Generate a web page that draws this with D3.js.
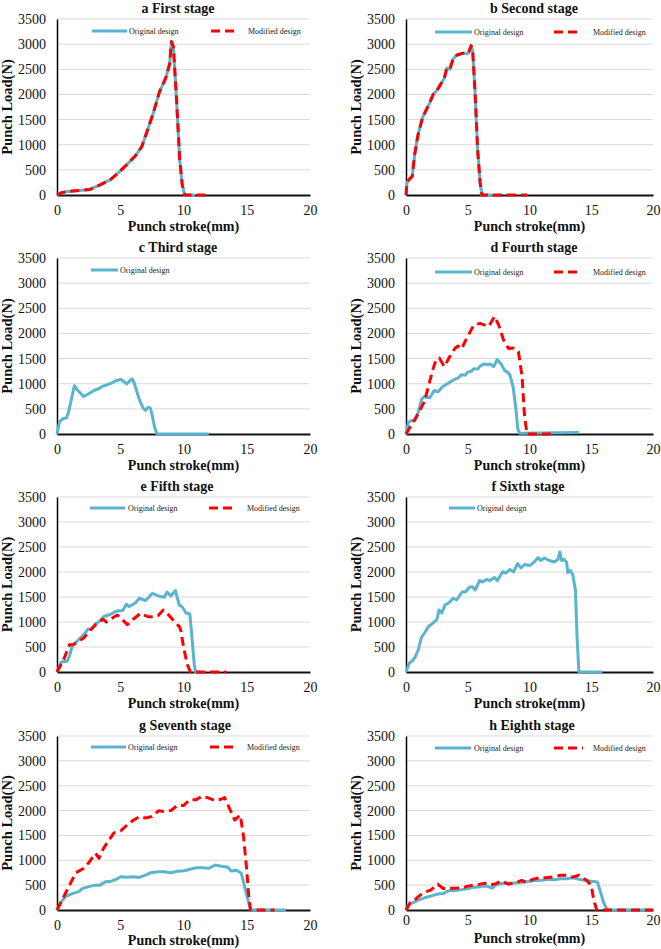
<!DOCTYPE html>
<html>
<head>
<meta charset="utf-8">
<script src="https://cdn.jsdelivr.net/npm/d3@7"></script>
<style>
  html, body { margin: 0; padding: 0; background: #fff; }
  svg { display: block; }
  text { font-family: "Liberation Serif", "Times New Roman", serif; }
</style>
</head>
<body>
<svg id="chart" width="661" height="949"></svg>
<script>
// ---------------- DATA ----------------
const panelTitles = ["a First stage", "b Second stage", "c Third stage", "d Fourth stage",
                     "e Fifth stage", "f Sixth stage", "g Seventh stage", "h Eighth stage"];
const seriesNames = ["Original design", "Modified design"];
const xTicks = [0, 5, 10, 15, 20];
const yTicks = [0, 500, 1000, 1500, 2000, 2500, 3000, 3500];
const xLabel = "Punch stroke(mm)";
const yLabel = "Punch Load(N)";

const origA = [[0,0],[0.3,40],[0.8,70],[1.5,85],[2.6,110],[3.4,200],[4.2,300],[4.8,430],[5.5,600],[6.2,780],[6.7,960],[7.1,1250],[7.6,1620],[8.1,2050],[8.6,2330],[8.9,2600],[9.05,3050],[9.2,2950],[9.45,1900],[9.7,700],[9.9,200],[10.1,0],[10.9,0]];
const modA  = [[0,0],[0.3,40],[0.8,70],[1.5,85],[2.6,110],[3.4,200],[4.2,300],[4.8,430],[5.5,600],[6.2,780],[6.7,960],[7.1,1250],[7.6,1620],[8.1,2050],[8.6,2330],[8.9,2600],[9.05,3050],[9.2,2950],[9.45,1900],[9.7,700],[9.9,200],[10.1,0],[12,0]];

const origB = [[0,0],[0.08,250],[0.3,320],[0.5,370],[0.7,800],[0.95,1170],[1.35,1550],[1.9,1820],[2.2,2000],[2.5,2080],[2.8,2200],[3.1,2320],[3.3,2520],[3.55,2500],[3.8,2700],[4.1,2780],[4.6,2820],[4.95,2810],[5.1,2850],[5.27,2970],[5.4,2870],[5.6,2000],[5.8,900],[6.0,250],[6.15,0],[7,0]];
const modB  = [[0,0],[0.08,250],[0.3,320],[0.5,370],[0.7,800],[0.95,1170],[1.35,1550],[1.9,1820],[2.2,2000],[2.5,2080],[2.8,2200],[3.1,2320],[3.3,2520],[3.55,2500],[3.8,2700],[4.1,2780],[4.6,2820],[4.95,2810],[5.1,2850],[5.27,2970],[5.4,2870],[5.6,2000],[5.8,900],[6.0,250],[6.15,0],[9.8,0]];

const origC = [[0,0],[0.2,245],[0.5,310],[0.75,320],[0.92,445],[1.1,650],[1.37,960],[1.6,880],[2.1,745],[2.5,800],[3.0,875],[3.3,900],[3.6,950],[3.95,975],[4.3,1010],[4.6,1055],[5.0,1085],[5.2,1060],[5.5,995],[5.75,1060],[5.95,1095],[6.1,1020],[6.5,690],[6.8,520],[7.0,470],[7.2,530],[7.37,520],[7.5,400],[7.7,150],[7.9,0],[12,0]];

const origD = [[0,0],[0.19,230],[0.45,270],[0.75,280],[1.0,440],[1.26,690],[1.45,740],[1.6,730],[1.9,720],[2.1,790],[2.28,865],[2.6,840],[2.95,940],[3.3,990],[3.6,1040],[3.97,1090],[4.2,1110],[4.5,1180],[4.8,1170],[5.0,1230],[5.3,1250],[5.5,1300],[5.8,1290],[6.0,1350],[6.3,1390],[6.6,1380],[6.8,1390],[7.1,1340],[7.38,1480],[7.7,1390],[8.0,1260],[8.2,1230],[8.4,1180],[8.67,940],[8.9,500],[9.05,100],[9.2,15],[14,30]];
const modD  = [[0,0],[0.5,200],[1.0,410],[1.5,650],[1.88,1010],[2.2,1300],[2.4,1450],[2.7,1510],[3.1,1340],[3.5,1520],[3.95,1700],[4.2,1750],[4.5,1690],[4.9,1900],[5.5,2170],[6.0,2200],[6.7,2140],[7.17,2340],[7.5,2170],[7.9,1870],[8.3,1700],[8.67,1710],[9.1,1640],[9.4,1140],[9.6,350],[9.8,0],[11.95,0]];

const origE = [[0,0],[0.34,200],[0.8,215],[1.0,330],[1.19,510],[1.6,620],[2.2,775],[2.46,860],[2.7,850],[3.05,965],[3.3,1000],[3.7,1110],[4.2,1150],[4.7,1220],[5.2,1230],[5.48,1355],[5.7,1310],[6.2,1380],[6.5,1475],[7.0,1430],[7.55,1575],[8.0,1520],[8.48,1495],[8.7,1600],[9.0,1520],[9.35,1630],[9.67,1340],[9.9,1300],[10.2,1180],[10.5,1160],[10.7,600],[10.85,150],[10.95,0],[11.3,0]];
const modE  = [[0,0],[0.53,250],[0.98,545],[1.3,550],[1.6,600],[2.12,680],[2.5,800],[3.05,945],[3.63,1055],[3.9,1000],[4.5,1100],[4.77,1140],[5.2,1040],[5.56,945],[6.0,1050],[6.62,1175],[7.15,1110],[7.6,1100],[8.0,1130],[8.4,1240],[8.8,1150],[9.27,1010],[9.67,910],[9.8,820],[10.0,500],[10.3,150],[10.55,0],[13.4,0]];

const origF = [[0,0],[0.27,180],[0.5,220],[0.75,300],[1.0,450],[1.23,680],[1.5,780],[1.82,910],[2.2,980],[2.5,1050],[2.67,1240],[2.9,1180],[3.16,1340],[3.5,1390],[3.82,1475],[4.1,1440],[4.55,1605],[4.8,1600],[5.16,1700],[5.4,1700],[5.6,1640],[5.96,1830],[6.2,1800],[6.5,1850],[6.8,1830],[7.17,1890],[7.4,1830],[7.83,2005],[8.1,1980],[8.4,2050],[8.7,2000],[9.04,2170],[9.3,2080],[9.6,2150],[10.0,2130],[10.3,2180],[10.7,2290],[10.9,2230],[11.2,2280],[11.6,2230],[12.0,2200],[12.3,2250],[12.46,2400],[12.6,2230],[12.8,2250],[13.0,2200],[13.1,1990],[13.3,2030],[13.5,1950],[13.72,1640],[13.85,700],[14.0,0],[15.9,0]];

const origG = [[0,0],[0.3,150],[0.66,270],[1.2,330],[1.72,370],[2.0,430],[2.52,470],[3.0,500],[3.4,500],[3.84,570],[4.3,580],[4.7,620],[5.03,670],[5.5,660],[6.0,670],[6.49,655],[7.0,700],[7.42,750],[8.0,770],[8.5,770],[9.0,750],[9.5,780],[10.07,790],[10.5,820],[11.0,850],[11.5,850],[12.0,840],[12.53,905],[13.0,880],[13.5,860],[13.77,785],[14.2,800],[14.57,740],[14.8,500],[15.0,300],[15.3,0],[18.1,0]];
const modG  = [[0,0],[0.5,250],[1.06,535],[1.5,750],[2.12,840],[2.5,950],[3.05,1140],[3.31,1040],[3.7,1250],[4.1,1400],[4.5,1550],[5.03,1590],[5.5,1700],[6.0,1800],[6.49,1875],[7.0,1850],[7.5,1880],[8.03,1995],[8.5,1980],[9.0,2000],[9.54,2110],[10.0,2100],[10.5,2220],[11.0,2220],[11.47,2290],[12.0,2250],[12.5,2200],[13.0,2230],[13.25,2260],[13.7,2010],[14.04,1810],[14.49,1910],[14.75,1470],[15.0,800],[15.15,300],[15.3,0],[17.2,0]];

const origH = [[0,0],[0.2,100],[0.48,140],[1.0,200],[1.55,250],[2.0,280],[2.57,320],[3.0,330],[3.42,385],[4.0,390],[4.5,410],[5.03,430],[5.5,460],[6.0,470],[6.5,485],[6.98,440],[7.38,520],[8.0,540],[8.5,540],[9.04,550],[9.5,560],[10.0,580],[10.5,595],[11.0,600],[11.5,620],[12.0,610],[12.5,630],[13.0,630],[13.53,650],[14.0,620],[14.5,600],[15.0,580],[15.5,565],[15.7,400],[16.0,150],[16.3,0],[20,0]];
const modH  = [[0,0],[0.35,150],[0.7,200],[1.0,270],[1.42,350],[2.0,400],[2.57,520],[3.02,430],[3.5,440],[4.0,440],[4.63,450],[5.0,480],[5.5,500],[6.0,520],[6.36,540],[6.7,500],[7.3,530],[7.7,585],[8.3,520],[9.0,560],[9.36,595],[9.8,550],[10.3,620],[10.78,650],[11.3,650],[12.0,670],[12.5,700],[13.05,700],[13.5,660],[14.0,700],[14.25,650],[14.6,600],[15.0,500],[15.2,200],[15.45,0],[20,0]];

const originalSeries = [origA, origB, origC, origD, origE, origF, origG, origH];
const modifiedSeries = [modA, modB, null, modD, modE, null, modG, modH];

// ---------------- LAYOUT ----------------
const cols = [{x0: 57, x1: 310}, {x0: 406, x1: 653}];
const rows = [{top: 19, bottom: 195}, {top: 258, bottom: 434}, {top: 497, bottom: 672}, {top: 736, bottom: 910}];
const titleX = [178, 534, 178, 534, 177, 528, 185, 532];
const xTickPad = [10, 10, 10, 10, 10, 10, 10, 5];
const xLabelDy = [36, 36, 36, 36, 36, 36, 35, 33];
const legendLayout = [
  {l1: 35, l2: 70, t: 72, r1: 154, r2: 180, rt: 191, dy: 12},
  {l1: 29, l2: 66, t: 68, r1: 148, r2: 174, rt: 187, dy: 13},
  {l1: 34, l2: 61, t: 63, dy: 12},
  {l1: 29, l2: 66, t: 68, r1: 148, r2: 174, rt: 187, dy: 14},
  {l1: 33, l2: 68, t: 71, r1: 152, r2: 179, rt: 190, dy: 11},
  {l1: 43, l2: 69, t: 71, dy: 11},
  {l1: 34, l2: 69, t: 71, r1: 153, r2: 179, rt: 190, dy: 11},
  {l1: 29, l2: 65, t: 68, r1: 148, r2: 177, rt: 187, dy: 12}
];
const BLUE = "#5ab4cf", RED = "#ff0000";

const svg = d3.select("#chart");

panelTitles.forEach((title, i) => {
  const c = cols[i % 2], r = rows[Math.floor(i / 2)];
  const x = d3.scaleLinear().domain([0, 20]).range([c.x0, c.x1]);
  const y = d3.scaleLinear().domain([0, 3500]).range([r.bottom, r.top]);
  const g = svg.append("g");

  // gridlines
  g.append("g").selectAll("line").data(yTicks.filter(v => v > 0)).join("line")
    .attr("x1", c.x0).attr("x2", c.x1)
    .attr("y1", d => y(d)).attr("y2", d => y(d))
    .attr("stroke", "#d9d9d9").attr("stroke-width", 1);

  // y axis
  const ya = g.append("g").attr("transform", `translate(${c.x0},0)`)
    .call(d3.axisLeft(y).tickValues(yTicks).tickSize(0).tickPadding(11).tickFormat(d3.format("d")));
  ya.select(".domain").attr("stroke", "#000").attr("stroke-width", 1.5);
  ya.selectAll("text").attr("font-size", 14).attr("fill", "#111")
    .style("font-family", '"Liberation Serif", serif');

  // x axis
  const xa = g.append("g").attr("transform", `translate(0,${r.bottom})`)
    .call(d3.axisBottom(x).tickValues(xTicks).tickSize(0).tickPadding(xTickPad[i]).tickFormat(d3.format("d")));
  xa.select(".domain").attr("stroke", "#111").attr("stroke-width", 2);
  xa.selectAll("text").attr("font-size", 14).attr("fill", "#111")
    .style("font-family", '"Liberation Serif", serif');

  // lines
  const line = d3.line().x(d => x(d[0])).y(d => y(d[1]));
  g.append("path").datum(originalSeries[i]).attr("d", line)
    .attr("fill", "none").attr("stroke", BLUE).attr("stroke-width", 3)
    .attr("stroke-linejoin", "round");
  if (modifiedSeries[i]) {
    g.append("path").datum(modifiedSeries[i]).attr("d", line)
      .attr("fill", "none").attr("stroke", RED).attr("stroke-width", 3)
      .attr("stroke-dasharray", "9,5").attr("stroke-linejoin", "round");
  }

  // legend
  const L = legendLayout[i];
  const ly = r.top + L.dy;
  g.append("line").attr("x1", c.x0 + L.l1).attr("x2", c.x0 + L.l2).attr("y1", ly).attr("y2", ly)
    .attr("stroke", BLUE).attr("stroke-width", 3);
  g.append("text").attr("x", c.x0 + L.t).attr("y", ly + 3).attr("font-size", 8).attr("fill", "#222")
    .text(seriesNames[0]);
  if (modifiedSeries[i]) {
    g.append("line").attr("x1", c.x0 + L.r1).attr("x2", c.x0 + L.r2).attr("y1", ly).attr("y2", ly)
      .attr("stroke", RED).attr("stroke-width", 3).attr("stroke-dasharray", "9,5");
    g.append("text").attr("x", c.x0 + L.rt).attr("y", ly + 3).attr("font-size", 8).attr("fill", "#222")
      .text(seriesNames[1]);
  }

  // title
  g.append("text").attr("x", titleX[i]).attr("y", r.top - 6).attr("text-anchor", "middle")
    .attr("font-size", 14).attr("font-weight", "bold").attr("fill", "#111").text(title);

  // axis labels
  g.append("text").attr("x", (c.x0 + c.x1) / 2).attr("y", r.bottom + xLabelDy[i])
    .attr("text-anchor", "middle").attr("font-size", 14).attr("font-weight", "bold").attr("fill", "#111")
    .text(xLabel);
  g.append("text")
    .attr("transform", `translate(${c.x0 - 45},${(r.top + r.bottom) / 2}) rotate(-90)`)
    .attr("text-anchor", "middle").attr("font-size", 14.5).attr("font-weight", "bold").attr("fill", "#111")
    .text(yLabel);
});
</script>
</body>
</html>
